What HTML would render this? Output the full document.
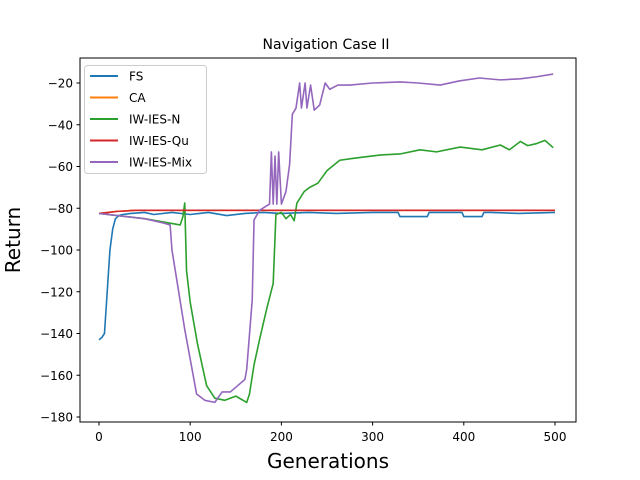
<!DOCTYPE html>
<html><head><meta charset="utf-8"><style>
body{margin:0;background:#fff;}
svg{display:block;font-family:"DejaVu Sans","Liberation Sans",sans-serif;}
</style></head><body>
<svg id="chart" width="640" height="480">
<rect x="0" y="0" width="640" height="480" fill="#fff"/>
<text x="326" y="49" font-size="14" text-anchor="middle">Navigation Case II</text>
<text x="328" y="468" font-size="20" text-anchor="middle">Generations</text>
<text transform="translate(20,240) rotate(-90)" font-size="20" text-anchor="middle">Return</text>
<g id="ticks"></g>
<g id="series"></g>
<rect x="80" y="58" width="496" height="364" fill="none" stroke="#000" stroke-width="1"/>
<g>
<rect x="84.5" y="65.5" width="122" height="108" rx="3" fill="#fff" fill-opacity="0.8" stroke="#ccc"/>
<g id="legend-items"></g>
</g>
</svg>
<script>
const seriesNames=["FS","CA","IW-IES-N","IW-IES-Qu","IW-IES-Mix"];
const seriesColors=["#1f77b4","#ff7f0e","#2ca02c","#d62728","#9467bd"];
const xTicks=[0,100,200,300,400,500];
const yTicks=[-20,-40,-60,-80,-100,-120,-140,-160,-180];
const fsX=[0,3,6,9,12,15,18,22,26,35,50,60,80,100,110,120,140,160,180,200,230,260,300,328,330,350,360,362,380,398,400,410,420,422,430,460,500];
const fsY=[-143,-142,-140,-120,-100,-90,-85,-83.5,-83,-82.5,-82,-83,-82,-83,-82.5,-82,-83.5,-82.5,-82,-82.5,-82,-82.5,-82,-82,-84,-84,-84,-82,-82,-82,-84,-84,-84,-82,-82,-82.5,-82];
const caX=[0,10,20,40,500];
const caY=[-82.5,-82,-81.5,-81,-81];
const nX=[0,50,89,92,94,96,100,108,118,127,138,150,162,165,170,176,184,191,194,200,205,210,214,217,225,231,240,250,264,280,308,330,352,370,396,420,440,450,462,470,480,489,498];
const nY=[-82.5,-85,-88,-84,-77.5,-110,-125,-145,-165,-171,-172,-170,-173,-169,-155,-143,-128,-116,-83,-82,-85,-83,-86,-77.5,-72,-70,-68,-62,-57,-56,-54.5,-54,-52,-53,-50.7,-52,-49.7,-52,-48,-50,-49,-47.5,-51];
const quX=[0,10,20,40,500];
const quY=[-82.5,-82,-81.5,-81,-81];
const mixX=[0,30,50,70,78,80,87,94,102,107,116,127,135,144,152,160,162,168,170,176,187,189,191,193,195,197,200,205,209,212,216,220,222,226,228,232,236,242,248,253,262,275,300,330,350,374,395,417,440,462,480,498];
const mixY=[-82.5,-84,-85,-87,-88,-100,-119,-138,-157,-169,-172,-173,-168,-168,-165,-162,-157,-124,-85.6,-81,-78,-53,-78,-55,-78,-53,-78,-72,-59,-35,-32,-20,-32,-20,-32,-21,-33,-30.5,-20,-23,-21,-21,-20,-19.5,-20,-21,-19,-17.6,-18.5,-18,-17,-15.7];
const xs=[fsX,caX,nX,quX,mixX], ys=[fsY,caY,nY,quY,mixY];
function xPos(g){return 99+g*0.912;}
function yPos(v){return 83+(-20-v)*2.0875;}
const NS="http://www.w3.org/2000/svg";
const tg=document.getElementById('ticks');
xTicks.forEach(t=>{
  const l=document.createElementNS(NS,'line');
  
  
  l.setAttribute('x1',xPos(t));l.setAttribute('x2',xPos(t));l.setAttribute('y1',422);l.setAttribute('y2',425.5);l.setAttribute('stroke','#000');
  tg.appendChild(l);
  const tx=document.createElementNS(NS,'text');
  
  
  tx.setAttribute('x',xPos(t));tx.setAttribute('y',441);tx.setAttribute('font-size','12');tx.setAttribute('text-anchor','middle');
  tx.textContent=t;tg.appendChild(tx);
});
yTicks.forEach(t=>{
  const l=document.createElementNS(NS,'line');
  
  
  l.setAttribute('x1',76.5);l.setAttribute('x2',80);l.setAttribute('y1',yPos(t));l.setAttribute('y2',yPos(t));l.setAttribute('stroke','#000');
  tg.appendChild(l);
  const tx=document.createElementNS(NS,'text');
  
  
  tx.setAttribute('x',73);tx.setAttribute('y',yPos(t)+4.5);tx.setAttribute('font-size','12');tx.setAttribute('text-anchor','end');
  tx.textContent=String(t).replace('-','\u2212');tg.appendChild(tx);
});
const sg=document.getElementById('series');
seriesNames.forEach((n,i)=>{
  const p=document.createElementNS(NS,'polyline');
  
  
  p.setAttribute('points',xs[i].map((g,j)=>xPos(g)+','+yPos(ys[i][j])).join(' '));
  p.setAttribute('fill','none');p.setAttribute('stroke',seriesColors[i]);p.setAttribute('stroke-width','1.6');p.setAttribute('stroke-linejoin','round');
  sg.appendChild(p);
});
const lg=document.getElementById('legend-items');
seriesNames.forEach((n,i)=>{
  const y=76+i*21.5;
  const l=document.createElementNS(NS,'line');
  
  
  l.setAttribute('x1',90);l.setAttribute('x2',118);l.setAttribute('y1',y);l.setAttribute('y2',y);l.setAttribute('stroke',seriesColors[i]);l.setAttribute('stroke-width','2');
  lg.appendChild(l);
  const t=document.createElementNS(NS,'text');
  
  
  t.setAttribute('x',129);t.setAttribute('y',y+4.5);t.setAttribute('font-size','12');
  t.textContent=n;lg.appendChild(t);
});
</script>
</body></html>
